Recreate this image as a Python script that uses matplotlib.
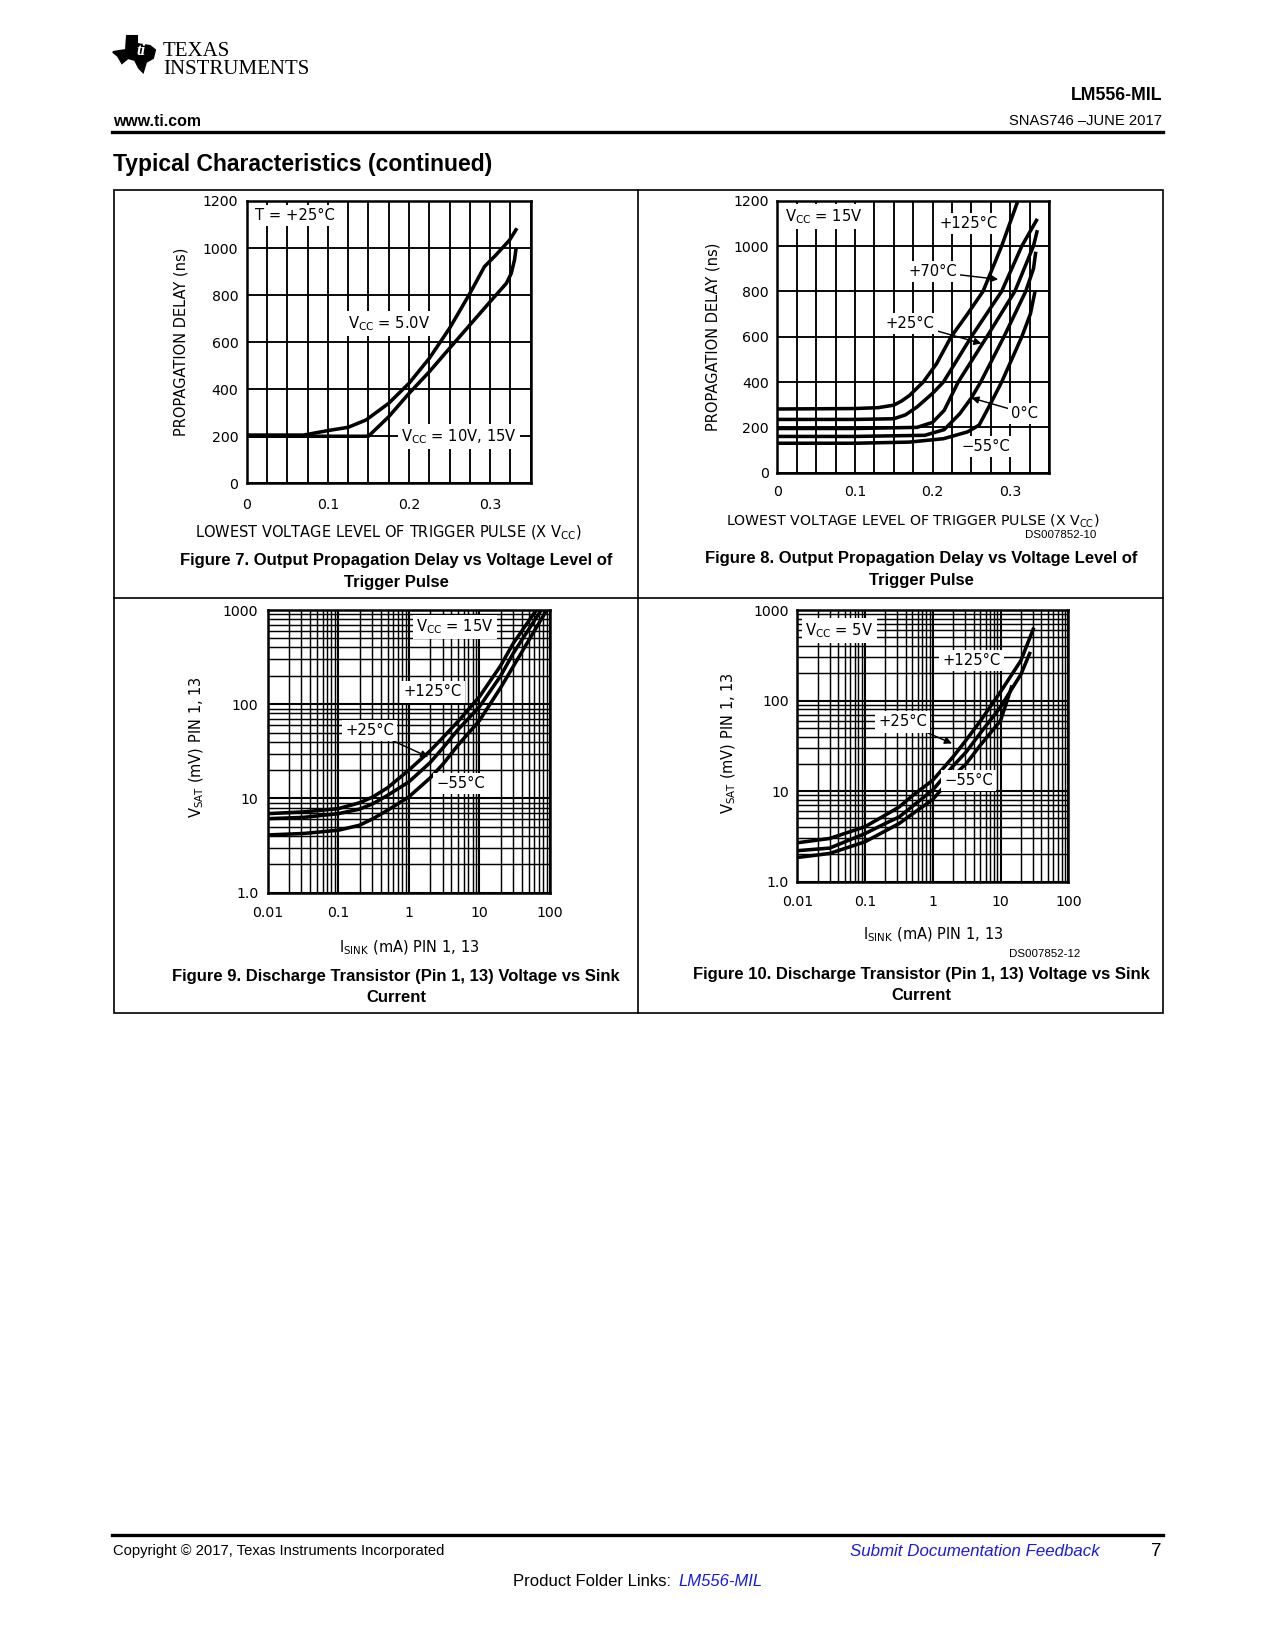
import numpy as np
import matplotlib.pyplot as plt
from matplotlib.patches import Polygon, Rectangle

# ---- Figure 7: propagation delay vs trigger level, T = +25C ----
trig_5v = [0, 0.07, 0.1, 0.125, 0.147, 0.175, 0.2, 0.225, 0.25, 0.275, 0.293, 0.307, 0.324, 0.333]
delay_5v = [205, 205, 224, 238, 269, 340, 425, 531, 659, 807, 921, 970, 1034, 1084]
trig_10v = [0, 0.15, 0.175, 0.2, 0.225, 0.25, 0.275, 0.3, 0.32, 0.326, 0.33, 0.332]
delay_10v = [200, 200, 283, 382, 474, 574, 673, 772, 850, 892, 949, 999]

# ---- Figure 8: propagation delay vs trigger level, Vcc = 15V ----
trig_125 = [0, 0.1, 0.13, 0.15, 0.16, 0.17, 0.188, 0.205, 0.224, 0.245, 0.265, 0.289, 0.31]
delay_125 = [281, 283, 287, 298, 316, 340, 400, 480, 600, 700, 800, 1000, 1200]
trig_70 = [0, 0.1, 0.15, 0.165, 0.18, 0.2, 0.214, 0.25, 0.289, 0.315, 0.335]
delay_70 = [235, 235, 238, 255, 290, 350, 400, 600, 800, 1000, 1120]
trig_25 = [0, 0.1, 0.18, 0.2, 0.215, 0.233, 0.27, 0.306, 0.33, 0.335]
delay_25 = [195, 195, 200, 222, 275, 400, 600, 800, 1000, 1070]
trig_0 = [0, 0.1, 0.19, 0.215, 0.235, 0.25, 0.262, 0.292, 0.32, 0.33, 0.333]
delay_0 = [160, 160, 165, 190, 260, 330, 400, 600, 800, 900, 975]
trig_m55 = [0, 0.1, 0.17, 0.214, 0.245, 0.26, 0.274, 0.289, 0.315, 0.326, 0.332]
delay_m55 = [130, 130, 135, 150, 180, 210, 300, 400, 600, 700, 800]

# ---- Figure 9: Vsat vs Isink, Vcc = 15V ----
isink_15 = [0.01, 0.032, 0.1, 0.2, 0.31, 0.5, 1, 2, 3.1, 5, 10, 20, 30]
vsat15_125 = [6.9, 7.2, 7.8, 9.0, 10.4, 13, 20, 32, 45, 66, 120, 257, 440]
vsat15_25 = [6.1, 6.3, 6.9, 7.7, 8.8, 10.8, 15, 24, 35, 54, 94, 200, 345]
vsat15_m55 = [4.1, 4.25, 4.6, 5.2, 6.1, 7.5, 10.4, 16.5, 23.5, 37, 67, 150, 250]
isink15_end = [64, 75, 90]  # where each curve reaches 1000 mV

# ---- Figure 10: Vsat vs Isink, Vcc = 5V ----
isink5_125 = [0.01, 0.03, 0.1, 0.2, 0.32, 0.5, 1, 2, 3.1, 5, 10, 20, 31]
vsat5_125 = [2.69, 3.0, 4.05, 5.45, 6.7, 8.9, 13.2, 24, 36.6, 59, 125, 277, 640]
isink5_25 = [0.01, 0.03, 0.1, 0.2, 0.32, 0.5, 1, 2, 3.1, 5, 10, 20, 27.5]
vsat5_25 = [2.2, 2.35, 3.4, 4.4, 5.2, 6.8, 10.3, 19, 27, 43.5, 85, 195, 345]
isink5_m55 = [0.01, 0.03, 0.1, 0.2, 0.32, 0.5, 1, 2, 3.1, 5, 10, 14.8]
vsat5_m55 = [1.85, 2.05, 2.76, 3.64, 4.4, 5.6, 8.1, 14.7, 20, 32, 60, 147]

lin_xticks = [0, 0.1, 0.2, 0.3]
lin_xticklabels = ['0', '0.1', '0.2', '0.3']
delay_ticks = [0, 200, 400, 600, 800, 1000, 1200]
log_xticks = [0.01, 0.1, 1, 10, 100]
log_xticklabels = ['0.01', '0.1', '1', '10', '100']
log_yticks = [1, 10, 100, 1000]
log_yticklabels = ['1.0', '10', '100', '1000']

W, H = 1275, 1650
fig = plt.figure(figsize=(8.5, 11), dpi=150)

# page layer in pixel coordinates (y down)
page = fig.add_axes([0, 0, 1, 1])
page.set_xlim(0, W)
page.set_ylim(H, 0)
page.axis('off')

hdr = 'Liberation Sans'
blue = '#1a1adf'

# TI logo (rough)
logo = Polygon([(127, 36), (137, 36), (137, 44), (150, 46), (155, 50), (153, 58), (146, 62),
                (143, 72), (139, 68), (135, 60), (128, 58), (122, 63), (118, 56), (113, 52), (126, 50)],
               closed=True, facecolor='black', edgecolor='black')
page.add_patch(logo)
page.text(141, 51, 'ti', color='white', fontsize=8, fontweight='bold', style='italic',
          family='Liberation Serif', ha='center', va='center')
page.text(163, 51, 'TEXAS', fontsize=10, family='Liberation Serif', ha='left', va='center')
page.text(163, 69, 'INSTRUMENTS', fontsize=10, family='Liberation Serif', ha='left', va='center')

page.text(1162, 95, 'LM556-MIL', ha='right', va='center', fontsize=8.5, fontweight='bold', family=hdr)
page.text(113, 121, 'www.ti.com', ha='left', va='center', fontsize=7.6, fontweight='bold', family=hdr)
page.text(1162, 121, 'SNAS746 \u2013JUNE 2017', ha='right', va='center', fontsize=7.1, family=hdr)
page.plot([112, 1163], [131.5, 131.5], color='black', lw=1.6)
page.text(113, 164, 'Typical Characteristics (continued)', ha='left', va='center',
          fontsize=11, fontweight='bold', family='Liberation Sans')

# frame around the four graphs
page.add_patch(Rectangle((113.5, 189.5), 1049, 823.5, fill=False, lw=0.8, edgecolor='black'))
page.plot([637.5, 637.5], [189.5, 1013], color='black', lw=0.8)
page.plot([113.5, 1162.5], [597.5, 597.5], color='black', lw=0.8)

cap = dict(ha='center', va='center', fontsize=8, fontweight='bold', family='Liberation Sans')
page.text(396, 561, 'Figure 7. Output Propagation Delay vs Voltage Level of', **cap)
page.text(396, 582, 'Trigger Pulse', **cap)
page.text(921, 559, 'Figure 8. Output Propagation Delay vs Voltage Level of', **cap)
page.text(921, 580, 'Trigger Pulse', **cap)
page.text(396, 976, 'Figure 9. Discharge Transistor (Pin 1, 13) Voltage vs Sink', **cap)
page.text(396, 997, 'Current', **cap)
page.text(921, 974, 'Figure 10. Discharge Transistor (Pin 1, 13) Voltage vs Sink', **cap)
page.text(921, 995, 'Current', **cap)
page.text(1096, 535, 'DS007852-10', ha='right', va='center', fontsize=5.5, family='Liberation Sans')
page.text(1080, 954, 'DS007852-12', ha='right', va='center', fontsize=5.5, family='Liberation Sans')

# footer
page.plot([112, 1163], [1535, 1535], color='black', lw=1.6)
page.text(113, 1551, 'Copyright \u00a9 2017, Texas Instruments Incorporated', ha='left', va='center',
          fontsize=7.1, family=hdr)
page.text(1100, 1551, 'Submit Documentation Feedback', ha='right', va='center', fontsize=8.1,
          style='italic', color=blue, family=hdr)
page.text(1162, 1551, '7', ha='right', va='center', fontsize=9, family=hdr)
page.text(676, 1581, 'Product Folder Links: ', ha='right', va='center', fontsize=8, family=hdr)
page.text(678, 1581, 'LM556-MIL', ha='left', va='center', fontsize=8, style='italic',
          color=blue, family=hdr)


def px_axes(left, top, right, bottom):
    return fig.add_axes([left / W, 1 - bottom / H, (right - left) / W, (bottom - top) / H])


def style(ax, xpad, ypad):
    for s in ax.spines.values():
        s.set_linewidth(1.2)
    ax.tick_params(which='both', length=0, labelsize=6.8)
    ax.tick_params(axis='x', pad=xpad)
    ax.tick_params(axis='y', pad=ypad)
    ax.set_axisbelow(True)


curve = dict(color='black', lw=1.7, solid_capstyle='butt')
box = dict(facecolor='white', edgecolor='none', pad=1.5)
lab = dict(fontsize=7.1, ha='center', va='center', bbox=box)
arrow = dict(arrowstyle='-|>', color='black', lw=0.7, mutation_scale=7, shrinkA=0, shrinkB=0)

# ---------- Figure 7 ----------
ax7 = px_axes(246.7, 201, 530.7, 483.3)
ax7.plot(trig_5v, delay_5v, **curve)
ax7.plot(trig_10v, delay_10v, **curve)
ax7.set_xlim(0, 0.35)
ax7.set_ylim(0, 1200)
ax7.set_xticks(np.arange(0, 0.351, 0.025), minor=True)
ax7.set_xticks(lin_xticks, lin_xticklabels)
ax7.set_yticks(delay_ticks)
ax7.grid(True, which='both', color='black', lw=0.9)
style(ax7, 7, 4)
ax7.text(0.01, 1140, 'T = +25\u00b0C', fontsize=7.1, ha='left', va='center', bbox=box)
ax7.text(0.176, 680, 'V$_{\\rm CC}$ = 5.0V', **lab)
ax7.text(0.262, 198, 'V$_{\\rm CC}$ = 10V, 15V', **lab)
ax7.set_xlabel('LOWEST VOLTAGE LEVEL OF TRIGGER PULSE (X V$_{\\rm CC}$)', fontsize=7, va='center')
ax7.xaxis.set_label_coords(0.5, -0.176)
ax7.set_ylabel('PROPAGATION DELAY (ns)', fontsize=7, va='center')
ax7.yaxis.set_label_coords(-0.231, 0.5)

# ---------- Figure 8 ----------
ax8 = px_axes(777.3, 200.7, 1049, 472.7)
for xs, ys in [(trig_125, delay_125), (trig_70, delay_70), (trig_25, delay_25),
               (trig_0, delay_0), (trig_m55, delay_m55)]:
    ax8.plot(xs, ys, **curve)
ax8.set_xlim(0, 0.35)
ax8.set_ylim(0, 1200)
ax8.set_xticks(np.arange(0, 0.351, 0.025), minor=True)
ax8.set_xticks(lin_xticks, lin_xticklabels)
ax8.set_yticks(delay_ticks)
ax8.grid(True, which='both', color='black', lw=0.9)
style(ax8, 6, 4)
ax8.text(0.01, 1129, 'V$_{\\rm CC}$ = 15V', fontsize=7.1, ha='left', va='center', bbox=box)
ax8.text(0.246, 1100, '+125\u00b0C', **lab)
ax8.annotate('+70\u00b0C', xy=(0.2845, 853), xytext=(0.2, 887), arrowprops=arrow, **lab)
ax8.annotate('+25\u00b0C', xy=(0.263, 570), xytext=(0.171, 659), arrowprops=arrow, **lab)
ax8.annotate('0\u00b0C', xy=(0.25, 330), xytext=(0.319, 262), arrowprops=arrow, **lab)
ax8.text(0.269, 115, '\u221255\u00b0C', **lab)
ax8.set_xlabel('LOWEST VOLTAGE LEVEL OF TRIGGER PULSE (X V$_{\\rm CC}$)', fontsize=6.8, va='center')
ax8.xaxis.set_label_coords(0.5, -0.178)
ax8.set_ylabel('PROPAGATION DELAY (ns)', fontsize=7, va='center')
ax8.yaxis.set_label_coords(-0.237, 0.5)

# ---------- Figure 9 ----------
ax9 = px_axes(267.7, 610, 550, 892.7)
for ys, xe in zip([vsat15_125, vsat15_25, vsat15_m55], isink15_end):
    ax9.plot(isink_15 + [xe], ys + [1000], **curve)
ax9.set_xscale('log')
ax9.set_yscale('log')
ax9.set_xlim(0.01, 100)
ax9.set_ylim(1, 1000)
ax9.set_xticks(log_xticks, log_xticklabels)
ax9.set_yticks(log_yticks, log_yticklabels)
ax9.grid(True, which='major', color='black', lw=1.0)
ax9.grid(True, which='minor', color='black', lw=0.7)
style(ax9, 6.5, 4.5)
ax9.text(4.5, 660, 'V$_{\\rm CC}$ = 15V', **lab)
ax9.text(2.2, 135, '+125\u00b0C', **lab)
ax9.annotate('+25\u00b0C', xy=(1.88, 27.6), xytext=(0.28, 53), arrowprops=arrow, **lab)
ax9.text(5.4, 14.4, '\u221255\u00b0C', **lab)
ax9.set_xlabel('I$_{\\rm SINK}$ (mA) PIN 1, 13', fontsize=7, va='center')
ax9.xaxis.set_label_coords(0.5, -0.196)
ax9.set_ylabel('V$_{\\rm SAT}$ (mV) PIN 1, 13', fontsize=7, va='center')
ax9.yaxis.set_label_coords(-0.25, 0.515)

# ---------- Figure 10 ----------
ax10 = px_axes(797.3, 610, 1068.3, 881.7)
for xs, ys in [(isink5_125, vsat5_125), (isink5_25, vsat5_25), (isink5_m55, vsat5_m55)]:
    ax10.plot(xs, ys, **curve)
ax10.set_xscale('log')
ax10.set_yscale('log')
ax10.set_xlim(0.01, 100)
ax10.set_ylim(1, 1000)
ax10.set_xticks(log_xticks, log_xticklabels)
ax10.set_yticks(log_yticks, log_yticklabels)
ax10.grid(True, which='major', color='black', lw=1.0)
ax10.grid(True, which='minor', color='black', lw=0.7)
style(ax10, 6.5, 4)
ax10.text(0.042, 597, 'V$_{\\rm CC}$ = 5V', **lab)
ax10.text(3.7, 279, '+125\u00b0C', **lab)
ax10.annotate('+25\u00b0C', xy=(1.92, 33.6), xytext=(0.36, 58), arrowprops=arrow, **lab)
ax10.text(3.4, 13.2, '\u221255\u00b0C', **lab)
ax10.set_xlabel('I$_{\\rm SINK}$ (mA) PIN 1, 13', fontsize=7, va='center')
ax10.xaxis.set_label_coords(0.5, -0.196)
ax10.set_ylabel('V$_{\\rm SAT}$ (mV) PIN 1, 13', fontsize=7, va='center')
ax10.yaxis.set_label_coords(-0.252, 0.512)

fig.savefig('out.png', dpi=150)
